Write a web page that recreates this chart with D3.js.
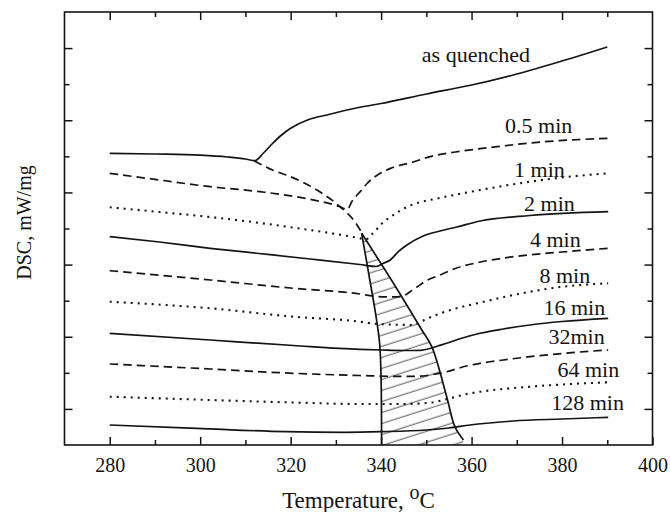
<!DOCTYPE html>
<html><head><meta charset="utf-8">
<script src="https://cdn.jsdelivr.net/npm/d3@7"></script>
<style>body{margin:0;background:#fff} svg{display:block}</style>
</head><body>
<svg id="c" width="670" height="512"></svg>
<script>
// ---------- data (temperature °C, DSC signal in arbitrary offset units) ----------
const xTickLabels = [280, 300, 320, 340, 360, 380, 400];
const xMinorTicks = [290, 310, 330, 350, 370, 390];
const yMajorTicks = [1, 3, 5, 7, 9, 11];
const yMinorTicks = [2, 4, 6, 8, 10];

const seriesNames = ["as quenched", "0.5 min", "1 min", "2 min", "4 min", "8 min", "16 min", "32min", "64 min", "128 min"];
const seriesStyle = ["solid", "dashed", "dotted", "solid", "dashed", "dotted", "solid", "dashed", "dotted", "solid"];

const asQuenched = [[280,8.084],[290,8.065],[300,8.032],[306,7.982],[310,7.926],[312.1,7.879],[314,8.092],[316,8.356],[318,8.591],[320,8.777],[324,9.021],[328,9.146],[335,9.353],[340,9.464],[350,9.728],[360,9.977],[370,10.282],[380,10.642],[390,11.03]];
const min05 = [[280,7.530],[291,7.344],[302.2,7.159],[313.2,7.020],[324.3,6.809],[330.9,6.604],[332.5,6.527],[333.6,6.762],[335.5,7.039],[337,7.261],[339.8,7.530],[342.3,7.677],[347.1,7.843],[350.8,7.990],[358,8.148],[365.6,8.267],[372.9,8.370],[390.2,8.500]];
const min1 = [[280,6.588],[291,6.457],[302.2,6.319],[313.2,6.153],[324.3,5.958],[330,5.848],[335.3,5.728],[336.6,5.695],[338.2,5.867],[340.2,6.139],[342.7,6.374],[345.7,6.596],[348.7,6.734],[350.8,6.790],[361.9,7.067],[372.9,7.297],[380,7.413],[390.2,7.530]];
const min2 = [[280,5.773],[291,5.626],[302.2,5.451],[313,5.307],[324.3,5.155],[335.3,5.002],[339,4.947],[340.5,5.036],[342,5.127],[343.8,5.357],[345.7,5.543],[349.3,5.792],[353,5.931],[356.7,6.042],[361.9,6.208],[372.9,6.360],[390.2,6.466]];
const min4 = [[280,4.831],[302.2,4.573],[320.6,4.343],[335.3,4.185],[338.2,4.129],[342,4.102],[344.5,4.116],[346.8,4.282],[350.1,4.559],[353,4.711],[356.7,4.905],[362,5.072],[369.2,5.218],[380,5.349],[390.2,5.451]];
const min8 = [[280,3.971],[302.2,3.789],[320.6,3.556],[335.3,3.417],[338.2,3.367],[344,3.331],[347.1,3.326],[349.3,3.450],[353,3.644],[356.7,3.789],[362,3.949],[369.2,4.157],[380.3,4.387],[390.2,4.481]];
const min16 = [[280,3.096],[302.2,2.910],[320.6,2.758],[335.3,2.652],[340,2.633],[345,2.619],[348.7,2.625],[350.8,2.674],[352.5,2.744],[354.5,2.819],[358,2.965],[361.9,3.096],[367,3.215],[372.9,3.326],[380,3.423],[390.2,3.511]];
const min32 = [[280,2.245],[302.2,2.106],[320.6,1.987],[335.3,1.926],[343.4,1.904],[348,1.904],[350.8,1.940],[354.5,2.031],[358,2.162],[361.9,2.264],[367,2.356],[372.9,2.447],[380,2.536],[390.2,2.633]];
const min64 = [[280,1.339],[302.2,1.247],[320.6,1.178],[335.3,1.136],[345,1.136],[350.8,1.172],[355.3,1.294],[358.5,1.400],[361.9,1.477],[367,1.552],[372.9,1.616],[380,1.677],[390.2,1.738]];
const min128 = [[280,0.554],[299.2,0.463],[319,0.369],[332,0.352],[340,0.369],[350,0.416],[355,0.471],[359.7,0.554],[364,0.610],[369.2,0.665],[380,0.721],[390.2,0.768]];

// onset locus (dashed) and boundaries of the hatched area
const onsetLocus = [[311.9,7.879],[316,7.620],[320,7.435],[325.8,7.068],[330.9,6.604],[334.2,6.188],[335.7,5.890]];
const leftBoundary = [[335.7,5.867],[337.5,4.573],[339.0,3.464],[339.7,2.771],[340,1.802],[340.1,0]];
const rightBoundary = [[335.7,5.867],[343.1,4.407],[349.0,3.187],[351.2,2.724],[354.5,1.339],[356.3,0.507],[358.2,0.14]];

// label anchors (temperature, signal)
const labelAnchors = [[349.0,10.62],[367.4,8.633],[369.4,7.436],[371.6,6.49],[372.9,5.496],[375.0,4.481],[375.9,3.603],[377.0,2.799],[379.0,1.893],[377.6,0.970]];

const allSeries = [asQuenched, min05, min1, min2, min4, min8, min16, min32, min64, min128];

// ---------- drawing ----------
const svg = d3.select("#c");
const m = {l: 64.5, r: 652.5, t: 12, b: 445};
const x = d3.scaleLinear().domain([270, 400]).range([m.l, m.r]);
const y = d3.scaleLinear().domain([0, 12]).range([m.b, m.t]);
const FONT = "'Liberation Serif','Times New Roman',Times,serif";
const INK = "#141414";

const line = d3.line().x(d => x(d[0])).y(d => y(d[1])).curve(d3.curveMonotoneX);
const lineY = d3.line().x(d => x(d[0])).y(d => y(d[1])).curve(d3.curveCatmullRom.alpha(0.5));

const defs = svg.append("defs");
const pat = defs.append("pattern").attr("id", "hatch").attr("patternUnits", "userSpaceOnUse")
  .attr("width", 12).attr("height", 10.5).attr("patternTransform", "rotate(-17.7)");
pat.append("line").attr("x1", -2).attr("x2", 14).attr("y1", 5).attr("y2", 5)
  .attr("stroke", "#555").attr("stroke-width", 1);

// hatched region
svg.append("path").attr("d", lineY(leftBoundary) + "L" + x(358.2) + "," + y(0) + lineY(rightBoundary.slice().reverse()).replace(/^M/, "L") + "Z")
  .attr("fill", "url(#hatch)").attr("stroke", "none");

const dash = {solid: null, dashed: "8.5,5", dotted: "2,5"};
allSeries.forEach((s, i) => {
  svg.append("path").attr("d", line(s)).attr("fill", "none").attr("stroke", INK)
    .attr("stroke-width", seriesStyle[i] === "dotted" ? 2.1 : 1.7)
    .attr("stroke-dasharray", dash[seriesStyle[i]]);
});
svg.append("path").attr("d", line(onsetLocus)).attr("fill", "none").attr("stroke", INK)
  .attr("stroke-width", 1.7).attr("stroke-dasharray", "8.5,5");
[leftBoundary, rightBoundary].forEach(b => {
  svg.append("path").attr("d", lineY(b)).attr("fill", "none").attr("stroke", INK).attr("stroke-width", 1.7);
});

// labels
seriesNames.forEach((n, i) => {
  svg.append("text").attr("x", x(labelAnchors[i][0])).attr("y", y(labelAnchors[i][1]))
    .attr("font-family", FONT).attr("font-size", 22).attr("fill", INK).text(n);
});

// axes
function styleAxis(g) {
  g.select(".domain").remove();
  g.selectAll("line").attr("stroke", INK).attr("stroke-width", 1.5);
  g.selectAll("text").attr("font-family", FONT).attr("font-size", 20).attr("fill", INK);
}
svg.append("g").attr("transform", `translate(0,${m.b})`)
  .call(d3.axisBottom(x).tickValues(xTickLabels).tickSize(-8).tickPadding(12.5).tickFormat(d3.format("d"))).call(styleAxis);
svg.append("g").attr("transform", `translate(0,${m.b})`)
  .call(d3.axisBottom(x).tickValues(xMinorTicks).tickSize(-5).tickFormat("")).call(styleAxis);
svg.append("g").attr("transform", `translate(0,${m.t})`)
  .call(d3.axisTop(x).tickValues(xTickLabels.slice(0, -1)).tickSize(-8).tickFormat("")).call(styleAxis);
svg.append("g").attr("transform", `translate(0,${m.t})`)
  .call(d3.axisTop(x).tickValues(xMinorTicks).tickSize(-5).tickFormat("")).call(styleAxis);
svg.append("g").attr("transform", `translate(${m.l},0)`)
  .call(d3.axisLeft(y).tickValues(yMajorTicks).tickSize(-8).tickFormat("")).call(styleAxis);
svg.append("g").attr("transform", `translate(${m.l},0)`)
  .call(d3.axisLeft(y).tickValues(yMinorTicks).tickSize(-5).tickFormat("")).call(styleAxis);
svg.append("g").attr("transform", `translate(${m.r},0)`)
  .call(d3.axisRight(y).tickValues(yMajorTicks).tickSize(-8).tickFormat("")).call(styleAxis);
svg.append("g").attr("transform", `translate(${m.r},0)`)
  .call(d3.axisRight(y).tickValues(yMinorTicks).tickSize(-5).tickFormat("")).call(styleAxis);

svg.append("rect").attr("x", m.l).attr("y", m.t).attr("width", m.r - m.l).attr("height", m.b - m.t)
  .attr("fill", "none").attr("stroke", INK).attr("stroke-width", 1.6);

// axis titles
const xt = svg.append("text").attr("x", (m.l + m.r) / 2).attr("y", 508).attr("text-anchor", "middle")
  .attr("font-family", FONT).attr("font-size", 23).attr("fill", INK);
xt.append("tspan").text("Temperature, ");
xt.append("tspan").attr("font-size", 20).attr("dy", -9).text("o");
xt.append("tspan").attr("dy", 9).text("C");

svg.append("text").attr("transform", "translate(31,222.5) rotate(-90)").attr("text-anchor", "middle")
  .attr("font-family", FONT).attr("font-size", 20).attr("fill", INK).text("DSC, mW/mg");
</script>
</body></html>
